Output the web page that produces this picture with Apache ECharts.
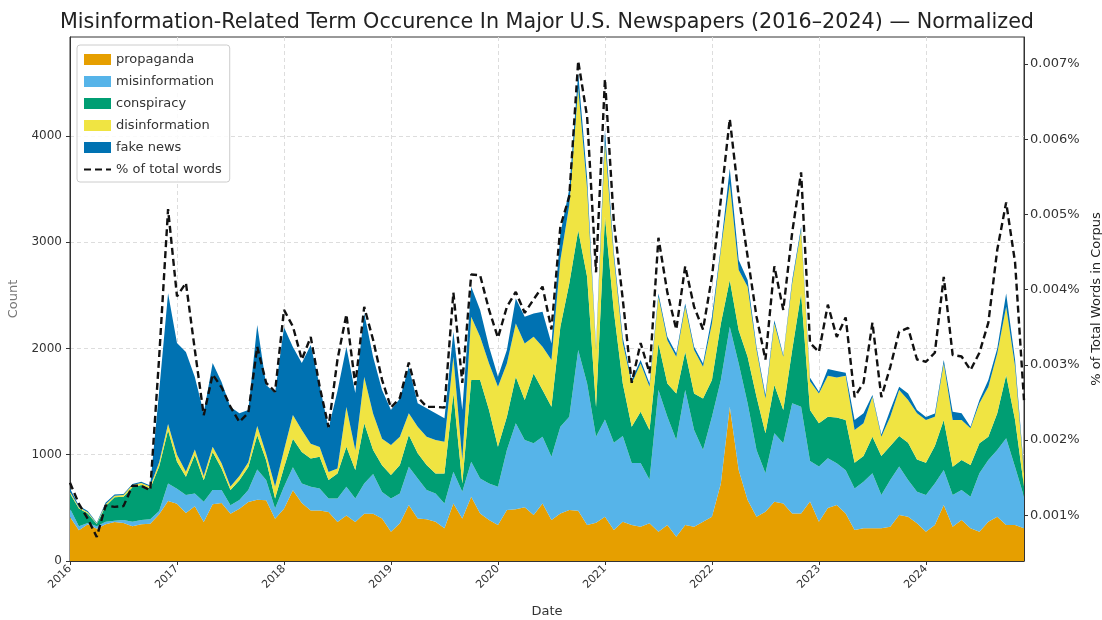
<!DOCTYPE html>
<html>
<head>
<meta charset="utf-8">
<script src="https://cdn.jsdelivr.net/npm/echarts@6/dist/echarts.min.js"></script>
<style>
  html, body { margin: 0; background: #fff; }
  #myChart { width: 1102px; height: 620px; }
</style>
</head>
<body>
<div id="myChart"></div>
<script>
// monthly counts, Jan 2016 .. Dec 2024
const years = ['2016', '2017', '2018', '2019', '2020', '2021', '2022', '2023', '2024'];
const months = [];
years.forEach(y => {
    for (let m = 1; m <= 12; m++) months.push(y + '-' + (m < 10 ? '0' + m : m));
});

const propaganda = [
    414, 290, 345, 304, 345, 367, 357, 326, 345, 351, 440, 564,
    539, 451, 514, 367, 533, 545, 445, 492, 555, 577, 571, 398,
    492, 665, 545, 476, 476, 461, 367, 429, 367, 445, 445, 400,
    276, 354, 527, 401, 392, 370, 307, 542, 401, 605, 448, 386,
    339, 480, 486, 505, 433, 542, 386, 448, 480, 473, 339, 361,
    417, 292, 370, 339, 323, 354, 276, 339, 229, 339, 323, 370,
    417, 730, 1451, 856, 574, 417, 464, 558, 542, 448, 448, 560,
    370, 498, 527, 448, 292, 307, 307, 307, 323, 433, 417, 354,
    276, 339, 527, 323, 386, 307, 276, 370, 417, 339, 339, 307
];
const misinformation = [
    81, 36, 12, 22, 25, 12, 29, 44, 41, 41, 30, 166,
    141, 170, 122, 191, 135, 123, 79, 82, 113, 285, 191, 97,
    207, 216, 185, 223, 207, 128, 222, 270, 222, 285, 373, 250,
    313, 282, 360, 376, 276, 266, 235, 298, 251, 329, 329, 344,
    360, 564, 809, 633, 674, 627, 595, 815, 877, 1511, 1332, 808,
    915, 821, 806, 583, 599, 411, 1332, 1018, 909, 1269, 909, 674,
    940, 972, 753, 1003, 909, 627, 361, 643, 565, 1035, 1003, 380,
    520, 468, 392, 406, 391, 439, 518, 314, 439, 456, 345, 298,
    345, 391, 329, 298, 282, 298, 549, 580, 627, 815, 545, 298
];
const conspiracy = [
    141, 169, 91, 22, 147, 220, 219, 323, 329, 291, 420, 500,
    254, 172, 361, 201, 357, 203, 144, 185, 216, 320, 185, 94,
    181, 269, 295, 266, 298, 173, 235, 376, 267, 565, 226, 250,
    220, 267, 298, 236, 235, 188, 282, 737, 78, 768, 925, 690,
    376, 313, 439, 376, 658, 439, 470, 941, 1254, 1129, 1003, 281,
    1906, 1237, 494, 341, 482, 467, 439, 314, 439, 361, 345, 486,
    345, 533, 439, 313, 439, 501, 376, 454, 313, 501, 1066, 480,
    405, 391, 432, 472, 242, 242, 345, 367, 320, 287, 351, 304,
    304, 352, 470, 266, 282, 298, 282, 220, 345, 595, 442, 95
];
const disinformation = [
    15, 10, 10, 4, 18, 16, 15, 22, 20, 17, 40, 60,
    66, 47, 53, 41, 50, 49, 32, 41, 46, 88, 63, 111,
    161, 223, 207, 138, 91, 75, 47, 373, 185, 435, 341, 250,
    282, 266, 204, 250, 266, 314, 298, 345, 220, 596, 408, 439,
    565, 502, 501, 533, 345, 408, 439, 627, 739, 1337, 826, 534,
    712, 500, 380, 408, 455, 408, 439, 407, 345, 423, 407, 298,
    533, 690, 909, 565, 658, 439, 329, 580, 502, 627, 596, 270,
    282, 386, 376, 417, 307, 307, 375, 181, 275, 432, 401, 433,
    401, 275, 533, 439, 376, 345, 376, 470, 564, 643, 502, 124
];
const fakeNews = [
    30, 15, 12, 8, 15, 10, 10, 10, 10, 10, 670, 1230,
    1050, 1126, 680, 592, 787, 765, 749, 590, 490, 950, 646, 880,
    1159, 640, 630, 929, 578, 413, 729, 565, 539, 600, 535, 458,
    329, 361, 439, 220, 267, 251, 220, 235, 470, 282, 251, 157,
    94, 125, 235, 251, 219, 329, 157, 251, 150, 140, 100, 32,
    103, 50, 50, 31, 31, 31, 31, 32, 31, 31, 32, 31,
    63, 31, 141, 94, 63, 32, 31, 31, 15, 32, 31, 35,
    15, 63, 60, 28, 94, 94, 16, 22, 63, 32, 63, 31,
    29, 30, 31, 78, 63, 15, 31, 62, 47, 125, 62, 32
];
// share of all words in the corpus, in percent
const pctTotal = [
    0.00143, 0.00115, 0.00095, 0.00071, 0.00113, 0.00111, 0.00112, 0.00139, 0.00139, 0.00133, 0.0031, 0.00507,
    0.00391, 0.00409, 0.0032, 0.00233, 0.00287, 0.0027, 0.00244, 0.00224, 0.00236, 0.00324, 0.00276, 0.00264,
    0.00373, 0.00351, 0.00307, 0.00337, 0.00271, 0.00217, 0.00307, 0.00367, 0.00273, 0.00377, 0.00333, 0.0028,
    0.00243, 0.00256, 0.00303, 0.00257, 0.00244, 0.00244, 0.00243, 0.00396, 0.00276, 0.0042, 0.00419, 0.00373,
    0.00336, 0.00377, 0.00397, 0.00369, 0.00387, 0.00404, 0.00347, 0.00484, 0.00524, 0.00704, 0.0063, 0.00423,
    0.0068, 0.0049, 0.00387, 0.00276, 0.00329, 0.00289, 0.00469, 0.00396, 0.00347, 0.00431, 0.00377, 0.00347,
    0.00417, 0.0052, 0.00627, 0.00524, 0.00444, 0.00364, 0.00307, 0.00431, 0.00373, 0.00476, 0.00556, 0.00329,
    0.00317, 0.0038, 0.00337, 0.00363, 0.00257, 0.00276, 0.00356, 0.00257, 0.00297, 0.00344, 0.00349, 0.00307,
    0.00304, 0.00316, 0.00417, 0.00313, 0.00311, 0.00293, 0.00316, 0.00356, 0.00453, 0.00516, 0.00436, 0.00253
];

const termNames = ['propaganda', 'misinformation', 'conspiracy', 'disinformation', 'fake news'];
const termData = [propaganda, misinformation, conspiracy, disinformation, fakeNews];
const termColors = ['#E69F00', '#56B4E9', '#009E73', '#F0E442', '#0072B2'];
const countTicks = [0, 1000, 2000, 3000, 4000];
const pctTickValues = [0.001, 0.002, 0.003, 0.004, 0.005, 0.006, 0.007];
const pctTicks = ['0.001%', '0.002%', '0.003%', '0.004%', '0.005%', '0.006%', '0.007%'];

const font = 'DejaVu Sans';
const myChart = echarts.init(document.getElementById('myChart'));

const isYearStart = idx => idx % 12 === 0;

const areaSeries = termNames.map((name, k) => ({
    name: name,
    type: 'line',
    stack: 'terms',
    data: termData[k],
    symbol: 'none',
    lineStyle: { width: 0, color: termColors[k] },
    itemStyle: { color: termColors[k] },
    areaStyle: { color: termColors[k], opacity: 1 },
    emphasis: { disabled: true },
    z: 2
}));

const option = {
    animation: false,
    textStyle: { fontFamily: font },
    title: {
        text: 'Misinformation-Related Term Occurence In Major U.S. Newspapers (2016\u20132024) \u2014 Normalized',
        left: 542,
        textAlign: 'center',
        top: 7,
        textStyle: { fontFamily: font, fontSize: 20.7, fontWeight: 'normal', color: '#222' }
    },
    legend: {
        orient: 'vertical',
        left: 77,
        top: 45,
        padding: [7, 8, 5, 6],
        itemWidth: 27,
        itemHeight: 11,
        itemGap: 7,
        backgroundColor: 'rgba(255,255,255,0.85)',
        borderColor: '#cccccc',
        borderWidth: 1,
        borderRadius: 3,
        textStyle: { fontFamily: font, fontSize: 13, color: '#333', lineHeight: 15 },
        data: termNames.map(n => ({ name: n, icon: 'rect' })).concat([
            { name: '% of total words', itemStyle: { opacity: 0 } }
        ])
    },
    grid: {
        left: 70, right: 78, top: 37, bottom: 59,
        outerBoundsMode: 'none',
        containLabel: false,
        show: true, borderColor: '#333', borderWidth: 1, backgroundColor: 'transparent'
    },
    xAxis: {
        type: 'category',
        data: months,
        boundaryGap: false,
        name: 'Date',
        nameLocation: 'middle',
        nameGap: 44,
        nameTextStyle: { fontFamily: font, fontSize: 13, color: '#333' },
        axisLine: { lineStyle: { color: '#333' } },
        axisTick: { interval: isYearStart, length: 4, lineStyle: { color: '#333' } },
        axisLabel: {
            interval: isYearStart,
            rotate: 45,
            fontSize: 11,
            color: '#333',
            margin: 6,
            formatter: v => v.slice(0, 4)
        },
        splitLine: { show: true, interval: isYearStart, lineStyle: { color: '#dddddd', type: [4, 3] } }
    },
    yAxis: [
        {
            type: 'value',
            min: 0,
            max: 4930,
            interval: 1000,
            name: 'Count',
            nameLocation: 'middle',
            nameRotate: 90,
            nameGap: 49,
            nameTextStyle: { fontFamily: font, fontSize: 13, color: '#777' },
            axisLine: { show: true, lineStyle: { color: '#333' } },
            axisTick: { show: true, length: 4, customValues: countTicks, lineStyle: { color: '#333' } },
            axisLabel: {
                fontSize: 12, color: '#333', margin: 8,
                customValues: countTicks,
                formatter: v => (countTicks.indexOf(v) >= 0 ? String(v) : '')
            },
            splitLine: { show: true, lineStyle: { color: '#dddddd', type: [4, 3] } }
        },
        {
            type: 'value',
            position: 'right',
            min: 0.00039,
            max: 0.00736,
            splitNumber: 7,
            name: '% of Total Words in Corpus',
            nameLocation: 'middle',
            nameRotate: 90,
            nameGap: 61,
            nameTextStyle: { fontFamily: font, fontSize: 13, color: '#222' },
            axisLine: { show: true, lineStyle: { color: '#333' } },
            axisTick: { show: true, length: 4, customValues: pctTickValues, lineStyle: { color: '#333' } },
            axisLabel: {
                fontSize: 13, color: '#333', margin: 6,
                customValues: pctTickValues,
                formatter: v => {
                    const k = Math.round(v * 1000);
                    if (Math.abs(v * 1000 - k) > 1e-6 || k < 1) return '';
                    return pctTicks[k - 1] || '';
                }
            },
            splitLine: { show: false }
        }
    ],
    series: areaSeries.concat([{
        name: '% of total words',
        type: 'line',
        yAxisIndex: 1,
        data: pctTotal,
        symbol: 'none',
        itemStyle: { color: '#111' },
        lineStyle: { color: '#111', width: 2.4, type: [7, 4] },
        emphasis: { disabled: true },
        z: 5
    }])
};

myChart.setOption(option);
</script>
</body>
</html>
